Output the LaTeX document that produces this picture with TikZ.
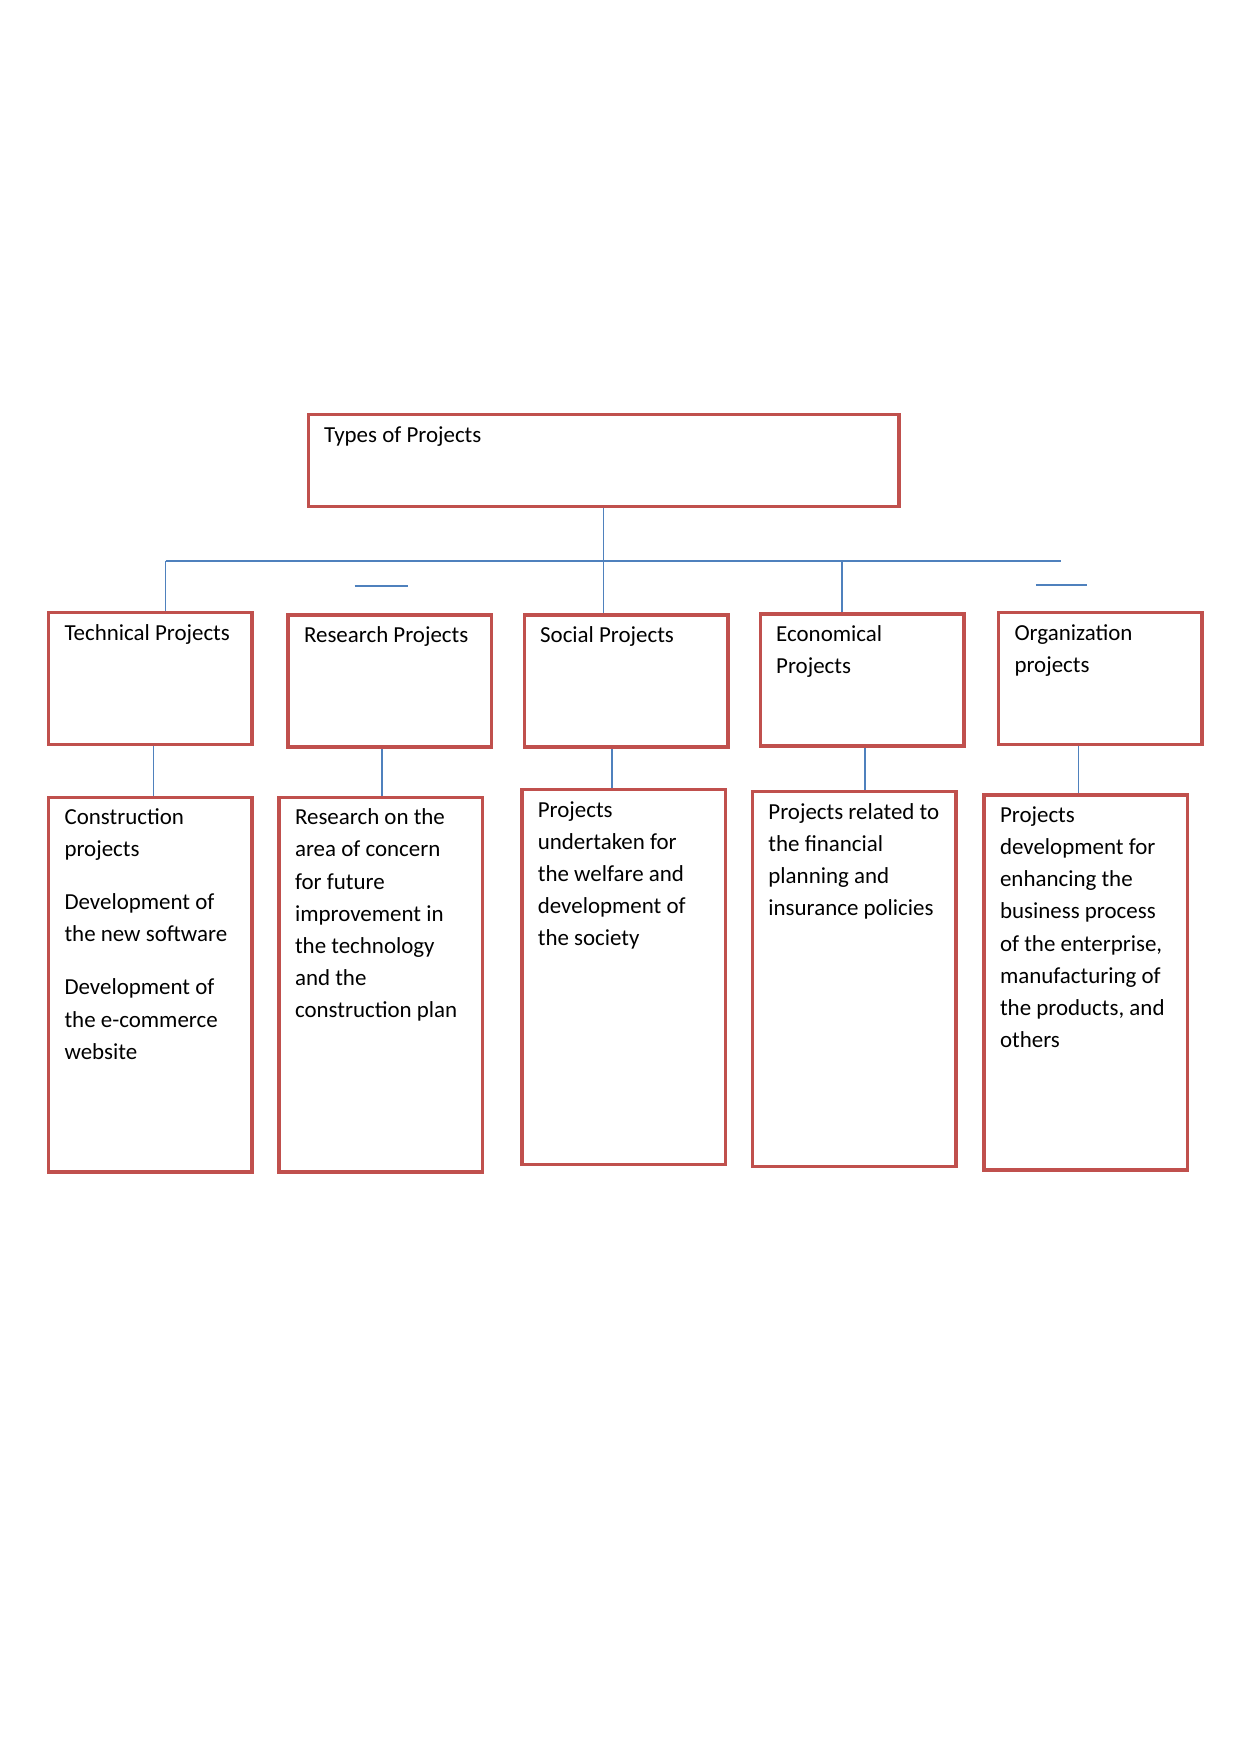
\documentclass[tikz,border=0pt]{standalone}
\usepackage{fontspec}
\setmainfont{Carlito}
\usetikzlibrary{backgrounds}
\definecolor{boxred}{RGB}{192,80,77}
\definecolor{linkblue}{RGB}{79,129,189}

\begin{document}
\begin{tikzpicture}[x=0.47968pt,y=-0.47968pt,
  box/.style={draw=boxred,line width=1.7pt,anchor=north west,align=flush left,outer sep=0pt,
    inner xsep=5pt,inner ysep=0pt,text width=87.6pt,text height=13.2pt,text depth=50.1pt,
    font=\fontsize{11}{15.4}\selectfont,execute at begin node={\leftskip=2.6pt}},
  tall/.style={text depth=166.6pt},
  link/.style={draw=linkblue,line width=0.75pt}]
\useasboundingbox (0,0) rectangle (1241,1754);
% ---- root ----
\node[box,text width=273.4pt,text depth=30.8pt] (top) at (308.3,414.6) {Types of Projects};
% ---- kinds of project ----
\node[box] (tech) at (48.7,612.7) {Technical Projects};
\node[box] (res) at (288.2,614.9) {Research Projects};
\node[box] (soc) at (524.3,614.9) {Social Projects};
\node[box] (eco) at (760.4,613.8) {Economical\\Projects};
\node[box] (org) at (998.7,612.7) {Organization\\projects};
% ---- examples ----
\node[box,tall] (cons) at (48.7,797.3) {Construction\\projects\\[10pt]Development of\\the new software\\[10pt]Development of\\the e-commerce\\website};
\node[box,tall] (resd) at (279.2,797.3) {Research on the\\area of concern\\for future\\improvement in\\the technology\\and the\\construction plan};
\node[box,tall] (welf) at (522.0,789.5) {Projects\\undertaken for\\the welfare and\\development of\\the society};
\node[box,tall] (fin) at (752.6,791.7) {Projects related to\\the financial\\planning and\\insurance policies};
\node[box,tall] (biz) at (984.2,795.1) {Projects\\development for\\enhancing the\\business process\\of the enterprise,\\manufacturing of\\the products, and\\others};
% ---- connectors ----
\begin{scope}[on background layer]
\coordinate (busL) at (165.6,561);
\coordinate (busR) at (1060.5,561);
\draw[link] (top.south) -- (top.south |- soc.north);
\draw[link] (busL) -- (busR);
\draw[link] (busL) -- (busL |- tech.north);
\draw[link] (eco.north) ++(-20,0) coordinate (ecoTop) -- (ecoTop |- busL);
\draw[link] (tech.south) ++(3,0) coordinate (t1) -- (t1 |- cons.north);
\draw[link] (res.south) ++(-8,0) coordinate (r1) -- (r1 |- resd.north);
\draw[link] (soc.south) ++(-14,0) coordinate (s1) -- (s1 |- welf.north);
\draw[link] (eco.south) ++(3,0) coordinate (e1) -- (e1 |- fin.north);
\draw[link] (org.south) ++(-22,0) coordinate (o1) -- (o1 |- biz.north);
% ---- loose ticks ----
\coordinate (tickA) at (354.5,586);
\coordinate (tickB) at (1035.8,585);
\draw[link] (tickA) -- ++(53,0);
\draw[link] (tickB) -- ++(51,0);
\end{scope}
\end{tikzpicture}
\end{document}
